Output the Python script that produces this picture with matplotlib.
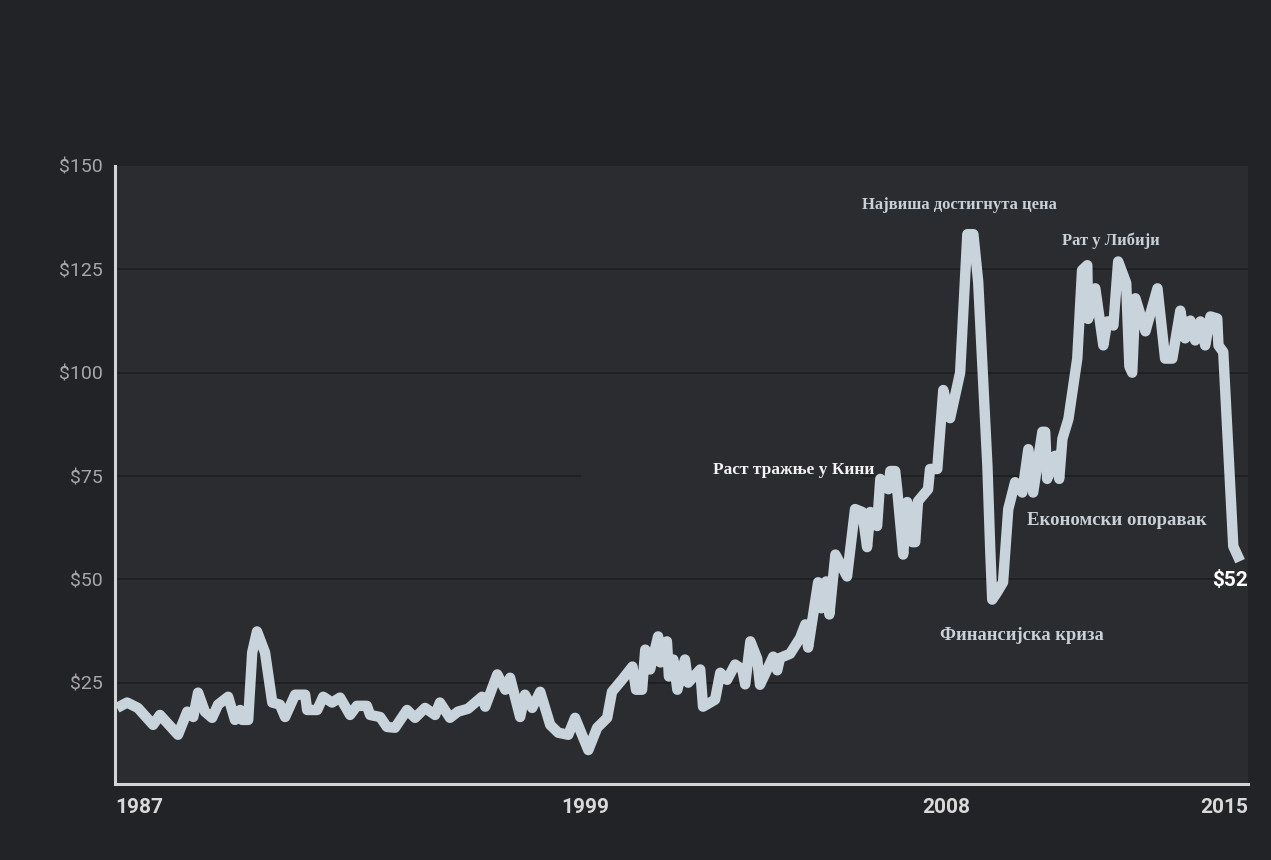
import numpy as np
import matplotlib.pyplot as plt
from matplotlib.transforms import ScaledTranslation

# Цена нафте (долара по барелу), очитано са графика
godine = [1987.05, 1987.30, 1987.57, 1987.95, 1988.12, 1988.57, 1988.80, 1988.95, 1989.07, 1989.24,
          1989.42, 1989.57, 1989.82, 1989.99, 1990.12, 1990.17, 1990.32, 1990.42, 1990.54, 1990.74,
          1990.92, 1991.11, 1991.24, 1991.49, 1991.74, 1991.79, 1992.04, 1992.19, 1992.41, 1992.61,
          1992.86, 1993.03, 1993.28, 1993.36, 1993.61, 1993.78, 1993.98, 1994.28, 1994.48, 1994.73,
          1994.98, 1995.10, 1995.35, 1995.55, 1995.80, 1996.15, 1996.23, 1996.53, 1996.73, 1996.85,
          1997.10, 1997.22, 1997.40, 1997.60, 1997.85, 1998.05, 1998.30, 1998.47, 1998.80, 1999.02,
          1999.27, 1999.39, 1999.64, 1999.90, 1999.99, 2000.14, 2000.22, 2000.34, 2000.54, 2000.60,
          2000.76, 2000.81, 2000.92, 2001.02, 2001.21, 2001.29, 2001.59, 2001.66, 2001.96, 2002.09,
          2002.26, 2002.46, 2002.64, 2002.71, 2002.84, 2003.01, 2003.08, 2003.41, 2003.51, 2003.58,
          2003.83, 2004.08, 2004.21, 2004.28, 2004.53, 2004.61, 2004.73, 2004.81, 2004.96, 2005.25,
          2005.45, 2005.63, 2005.75, 2005.83, 2006.00, 2006.08, 2006.28, 2006.33, 2006.45, 2006.50,
          2006.65, 2006.75, 2006.88, 2006.95, 2007.02, 2007.27, 2007.32, 2007.50, 2007.65, 2007.82,
          2008.07, 2008.25, 2008.40, 2008.52, 2008.75, 2008.82, 2008.87, 2009.00, 2009.14, 2009.27,
          2009.44, 2009.62, 2009.77, 2009.89, 2010.12, 2010.19, 2010.24, 2010.44, 2010.54, 2010.62,
          2010.77, 2010.99, 2011.11, 2011.24, 2011.26, 2011.44, 2011.64, 2011.74, 2011.89, 2012.01,
          2012.21, 2012.29, 2012.36, 2012.44, 2012.69, 2012.99, 2013.18, 2013.36, 2013.56, 2013.68,
          2013.81, 2013.93, 2014.06, 2014.18, 2014.31, 2014.48, 2014.51, 2014.63, 2014.88, 2015.05]

cena = [18.9, 20.2, 18.9, 14.8, 17.2, 12.4, 18.0, 16.7, 22.6, 18.0,
        16.5, 19.7, 21.6, 16.0, 18.4, 16.0, 16.0, 32.3, 37.4, 32.3,
        20.2, 19.7, 16.7, 22.1, 22.1, 18.4, 18.4, 21.6, 20.2, 21.4,
        17.2, 19.4, 19.4, 17.2, 16.7, 14.3, 14.1, 18.4, 16.5, 18.9,
        17.2, 20.2, 16.5, 18.0, 18.7, 21.6, 19.2, 27.0, 23.3, 26.2,
        16.7, 22.1, 18.9, 22.8, 14.8, 12.9, 12.4, 16.5, 8.7, 14.1,
        16.5, 22.8, 25.7, 28.9, 23.3, 23.3, 33.0, 28.2, 36.2, 29.9,
        35.0, 26.5, 30.6, 23.3, 30.6, 25.0, 28.2, 19.2, 20.9, 27.4,
        25.7, 29.4, 28.2, 24.6, 35.0, 30.8, 24.5, 31.3, 28.0, 31.0,
        32.0, 35.8, 39.1, 33.5, 49.3, 43.0, 49.5, 41.5, 56.0, 50.7,
        67.0, 66.3, 57.8, 66.3, 62.9, 74.3, 71.8, 76.2, 76.2, 71.8,
        56.0, 68.7, 59.0, 59.0, 68.9, 71.8, 76.7, 76.7, 95.8, 89.0,
        100.0, 133.5, 133.5, 122.0, 77.4, 57.3, 45.1, 47.0, 49.3, 67.0,
        73.5, 71.0, 81.5, 71.0, 85.7, 85.7, 74.3, 79.9, 74.3, 84.0,
        88.8, 103.4, 124.8, 126.0, 113.0, 120.4, 106.6, 112.4, 111.4, 126.9,
        121.7, 101.5, 100.0, 118.0, 110.0, 120.4, 103.4, 103.4, 115.0, 108.3,
        112.6, 107.8, 112.4, 106.6, 113.6, 113.1, 106.6, 105.0, 58.0, 54.4]

y_tikovi = [25, 50, 75, 100, 125, 150]
y_oznake = ['$25', '$50', '$75', '$100', '$125', '$150']
x_tikovi = [1987, 1999, 2008, 2015.25]
x_oznake = ['1987', '1999', '2008', '2015']

dogadjaji = ['Највиша достигнута цена', 'Рат у Либији', 'Раст тражње у Кини',
             'Економски опоравак', 'Финансијска криза']

pozadina = '#222326'
polje = '#2b2c2f'
linija = '#c9d3dc'

fig = plt.figure(figsize=(12.71, 8.6), dpi=100)
fig.patch.set_facecolor(pozadina)
ax = fig.add_axes([0.0905, 0.0884, 0.8915, 0.7186])
ax.set_facecolor(polje)

# mreža (linija na $75 je prekinuta iza natpisa)
for v in [25, 50, 100, 125]:
    ax.axhline(v, color='#1d1e20', lw=1.2, zorder=1)
ax.axhline(75, xmax=0.41, color='#1d1e20', lw=1.2, zorder=1)
ax.axhline(75, xmin=0.66, color='#1d1e20', lw=1.2, zorder=1)

ax.plot(godine, cena, color=linija, lw=7.5, solid_joinstyle='round',
        solid_capstyle='butt', zorder=3)

ax.set_xlim(1987, 2015.25)
ax.set_ylim(0.5, 150)

for s in ['top', 'right']:
    ax.spines[s].set_visible(False)
for s in ['left', 'bottom']:
    ax.spines[s].set_color('#d4d4d4')
    ax.spines[s].set_linewidth(2.2)

ax.set_yticks(y_tikovi)
ax.set_yticklabels(y_oznake, fontsize=14, color='#a6a6a6', family='Roboto')
ax.tick_params(axis='y', length=0, pad=9)

ax.set_xticks(x_tikovi)
ax.set_xticklabels(x_oznake, fontsize=15, color='#d9d9d9', family='Roboto', fontweight='bold')
ax.tick_params(axis='x', length=0, pad=10)
lab = ax.get_xticklabels()
lab[0].set_ha('left')
lab[-1].set_ha('right')
for l in lab[1:3]:
    l.set_transform(l.get_transform() + ScaledTranslation(-11 / 100, 0, fig.dpi_scale_trans))

serif = dict(family='Liberation Serif', fontweight='bold', va='center', ha='left')
ax.text(2005.63, 140.5, dogadjaji[0], color='#c8d0d8', fontsize=12, **serif)
ax.text(2010.6, 132.0, dogadjaji[1], color='#c8d0d8', fontsize=12, **serif)
ax.text(2001.9, 76.4, dogadjaji[2], color='#f2f2f2', fontsize=12.5, **serif)
ax.text(2009.74, 64.3, dogadjaji[3], color='#c8d0d8', fontsize=13.5, **serif)
ax.text(2007.57, 36.3, dogadjaji[4], color='#c8d0d8', fontsize=13.3, **serif)
ax.text(2015.25, 49.8, '$' + str(52), color='white', fontsize=15, family='Roboto',
        fontweight='bold', ha='right', va='center')

fig.savefig('out.png', dpi=100, facecolor=pozadina)
